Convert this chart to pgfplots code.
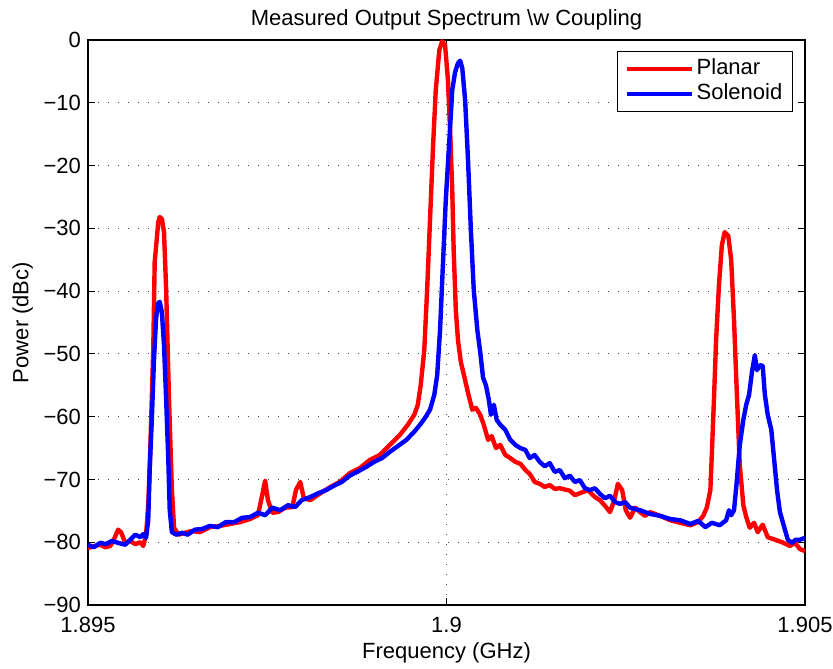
\documentclass[border=0pt]{standalone}
\usepackage{fontspec}
\setmainfont{Liberation Sans}
\usepackage{pgfplots}
\pgfplotsset{compat=1.18}
\newcommand{\mysize}{\fontsize{11}{13}\selectfont}
\begin{document}
\begin{tikzpicture}[font=\mysize]
\useasboundingbox (-44pt,-31.5pt) rectangle (372.5pt,302.5pt);
\begin{axis}[
  at={(0,0)}, anchor=south west,
  scale only axis, width=358.5pt, height=282.5pt,
  xmin=1.895, xmax=1.905, ymin=-90, ymax=0,
  xtick={1.895,1.9,1.905}, xticklabels={1.895,1.9,1.905},
  ytick={-90,-80,-70,-60,-50,-40,-30,-20,-10,0},
  yticklabels={−90,−80,−70,−60,−50,−40,−30,−20,−10,0},
  scaled ticks=false,
  tick align=inside, major tick length=3.5pt,
  tick style={black, line width=0.5pt},
  axis line style={black, line width=0.8pt},
  grid=major,
  major grid style={black!75, line width=0.5pt, dash pattern=on 0.6pt off 4.4pt},
  ticklabel style={font=\mysize},
  xticklabel style={anchor=base, yshift=-13.5pt},
  every axis title shift=0pt,
  title={Measured Output Spectrum \textbackslash w Coupling},
  title style={at={(axis description cs:0.5,1.0265)}, anchor=base, font=\mysize},
  xlabel={Frequency (GHz)},
  xlabel style={at={(axis description cs:0.5,-0.094)}, anchor=base, font=\mysize},
  ylabel={Power (dBc)},
  ylabel style={at={(axis description cs:-0.083,0.5)}, anchor=base, font=\mysize},
  legend style={at={(0.983,0.9805)}, anchor=north east, draw=black, line width=0.5pt,
    font=\mysize, row sep=0pt, inner xsep=4pt, inner ysep=2.5pt,
    nodes={inner sep=1pt, text height=8pt, text depth=2.5pt}},
  legend cell align=left,
  legend image code/.code={\draw[#1] (0pt,0pt) -- (32.5pt,0pt);},
  clip=true,
]
\addplot[red, line width=2.2pt, line join=round] coordinates {
(1.89500,-80.9) (1.89510,-80.6) (1.89517,-80.4) (1.89524,-80.8) (1.89531,-80.6)
(1.89536,-79.6) (1.89542,-78.0) (1.89546,-78.4) (1.89552,-80.1) (1.89559,-79.8)
(1.89566,-80.3) (1.89573,-80.0) (1.89577,-80.6) (1.89581,-78.8) (1.89584,-74.1)
(1.89586,-68.5) (1.89591,-49.4) (1.89593,-35.4) (1.89598,-29.0) (1.89600,-28.2)
(1.89603,-28.5) (1.89606,-30.6) (1.89609,-39.8) (1.89613,-57.3) (1.89617,-71.7)
(1.89620,-77.7) (1.89626,-78.8) (1.89635,-78.5) (1.89645,-78.2) (1.89656,-78.4)
(1.89670,-77.6) (1.89684,-77.4) (1.89698,-77.1) (1.89712,-76.8) (1.89726,-76.3)
(1.89737,-75.7) (1.89743,-72.5) (1.89747,-70.2) (1.89751,-73.3) (1.89757,-75.3)
(1.89765,-75.2) (1.89775,-74.5) (1.89785,-74.4) (1.89790,-71.7) (1.89796,-70.4)
(1.89801,-73.0) (1.89810,-73.3) (1.89824,-72.2) (1.89838,-71.2) (1.89851,-70.4)
(1.89865,-69.0) (1.89879,-68.2) (1.89893,-66.9) (1.89907,-66.1) (1.89921,-64.5)
(1.89935,-62.9) (1.89946,-61.3) (1.89955,-59.7) (1.89960,-58.1) (1.89964,-55.0)
(1.89969,-49.4) (1.89973,-39.8) (1.89977,-28.7) (1.89981,-17.5) (1.89985,-8.0)
(1.89990,-1.6) (1.89994,-0.2) (1.89998,-0.8) (1.90002,-6.4) (1.90005,-14.3)
(1.90008,-23.9) (1.90010,-33.5) (1.90013,-43.0) (1.90016,-47.8) (1.90020,-51.3)
(1.90026,-54.2) (1.90030,-56.2) (1.90036,-58.9) (1.90041,-58.6) (1.90047,-59.7)
(1.90052,-61.3) (1.90058,-63.7) (1.90063,-63.1) (1.90069,-65.0) (1.90075,-64.5)
(1.90082,-66.1) (1.90089,-66.6) (1.90096,-67.2) (1.90103,-67.5) (1.90110,-68.5)
(1.90116,-69.1) (1.90123,-70.4) (1.90130,-70.7) (1.90137,-71.2) (1.90144,-70.9)
(1.90151,-71.5) (1.90158,-71.4) (1.90172,-71.8) (1.90179,-72.5) (1.90186,-72.2)
(1.90197,-71.7) (1.90207,-72.8) (1.90214,-73.3) (1.90221,-74.2) (1.90228,-75.2)
(1.90234,-73.3) (1.90239,-70.7) (1.90245,-71.7) (1.90250,-74.9) (1.90256,-76.1)
(1.90263,-74.5) (1.90270,-75.2) (1.90277,-75.8) (1.90284,-75.2) (1.90298,-75.8)
(1.90312,-76.5) (1.90326,-76.9) (1.90340,-77.3) (1.90351,-76.8) (1.90358,-75.8)
(1.90363,-74.5) (1.90368,-71.7) (1.90370,-66.1) (1.90373,-57.3) (1.90376,-47.8)
(1.90380,-39.0) (1.90384,-32.7) (1.90388,-30.6) (1.90393,-31.2) (1.90397,-35.0)
(1.90401,-44.6) (1.90405,-56.5) (1.90409,-67.7) (1.90414,-74.1) (1.90418,-76.0)
(1.90423,-77.7) (1.90429,-76.9) (1.90434,-78.4) (1.90441,-77.2) (1.90448,-79.2)
(1.90458,-79.6) (1.90468,-80.0) (1.90479,-80.6) (1.90486,-80.1) (1.90493,-81.1)
(1.90500,-81.4)
};
\addlegendentry{Planar}
\addplot[blue, line width=2.2pt, line join=round] coordinates {
(1.89500,-80.4) (1.89508,-80.8) (1.89517,-80.1) (1.89525,-80.3) (1.89533,-79.8)
(1.89542,-80.1) (1.89552,-80.4) (1.89559,-79.6) (1.89566,-78.8) (1.89573,-79.2)
(1.89577,-78.7) (1.89581,-79.3) (1.89584,-76.5) (1.89586,-68.5) (1.89589,-60.5)
(1.89592,-51.0) (1.89595,-44.3) (1.89598,-41.9) (1.89600,-41.7) (1.89603,-43.3)
(1.89606,-48.6) (1.89609,-57.3) (1.89612,-66.9) (1.89614,-74.9) (1.89617,-78.4)
(1.89623,-78.8) (1.89631,-78.5) (1.89639,-78.8) (1.89649,-78.0) (1.89659,-77.9)
(1.89670,-77.4) (1.89681,-77.6) (1.89692,-76.8) (1.89704,-76.8) (1.89715,-76.1)
(1.89726,-76.0) (1.89737,-75.3) (1.89747,-75.7) (1.89757,-74.5) (1.89768,-74.9)
(1.89779,-74.1) (1.89789,-74.4) (1.89798,-73.3) (1.89810,-72.8) (1.89821,-72.2)
(1.89832,-71.7) (1.89843,-71.0) (1.89854,-70.4) (1.89865,-69.4) (1.89877,-68.7)
(1.89888,-68.0) (1.89899,-67.2) (1.89910,-66.6) (1.89921,-65.6) (1.89932,-64.7)
(1.89944,-63.7) (1.89955,-62.4) (1.89963,-61.3) (1.89970,-60.2) (1.89977,-58.9)
(1.89983,-56.5) (1.89987,-53.4) (1.89991,-46.2) (1.89995,-35.8) (1.89999,-25.5)
(1.90004,-15.9) (1.90008,-8.0) (1.90012,-5.1) (1.90016,-3.7) (1.90019,-3.3)
(1.90022,-4.5) (1.90026,-9.6) (1.90030,-19.1) (1.90034,-30.3) (1.90038,-39.8)
(1.90043,-46.2) (1.90047,-49.7) (1.90051,-53.8) (1.90055,-55.0) (1.90059,-57.3)
(1.90062,-59.7) (1.90066,-58.1) (1.90070,-60.5) (1.90075,-61.3) (1.90082,-62.1)
(1.90089,-63.7) (1.90096,-64.5) (1.90103,-65.0) (1.90110,-65.3) (1.90116,-66.6)
(1.90123,-66.1) (1.90130,-67.2) (1.90137,-67.9) (1.90144,-67.4) (1.90151,-68.8)
(1.90158,-68.5) (1.90165,-69.8) (1.90172,-69.4) (1.90179,-70.4) (1.90186,-70.1)
(1.90193,-71.4) (1.90200,-71.7) (1.90207,-71.4) (1.90214,-72.3) (1.90221,-73.0)
(1.90228,-72.6) (1.90235,-73.6) (1.90242,-73.9) (1.90249,-73.6) (1.90256,-74.5)
(1.90270,-74.9) (1.90284,-75.5) (1.90298,-75.8) (1.90312,-76.3) (1.90326,-76.5)
(1.90340,-77.1) (1.90351,-76.6) (1.90361,-77.6) (1.90370,-76.9) (1.90381,-77.3)
(1.90390,-76.5) (1.90394,-74.9) (1.90397,-75.7) (1.90401,-74.9) (1.90405,-70.1)
(1.90409,-64.5) (1.90414,-60.5) (1.90418,-58.1) (1.90422,-56.5) (1.90426,-52.9)
(1.90430,-50.2) (1.90433,-52.6) (1.90437,-51.8) (1.90441,-51.9) (1.90444,-56.5)
(1.90448,-59.7) (1.90453,-62.1) (1.90457,-66.9) (1.90461,-71.7) (1.90465,-75.2)
(1.90471,-77.6) (1.90476,-79.6) (1.90482,-80.1) (1.90487,-79.6) (1.90493,-79.6)
(1.90500,-79.3)
};
\addlegendentry{Solenoid}
\end{axis}
\end{tikzpicture}
\end{document}
